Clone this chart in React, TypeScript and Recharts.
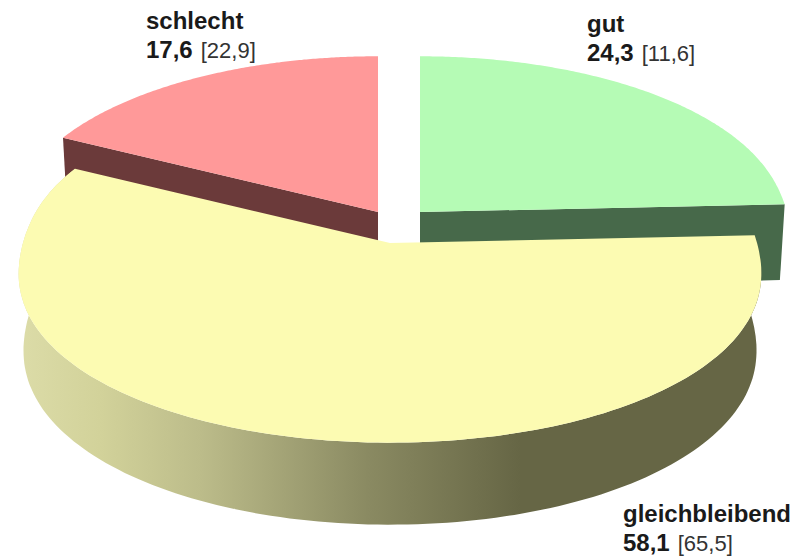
import { PieChart, Pie, Cell } from "recharts";

const names = ["schlecht", "gut", "gleichbleibend"];
const current = [17.6, 24.3, 58.1];
const previous = [22.9, 11.6, 65.5];

const TOP_COLORS: Record<string, string> = {
  schlecht: "#ff9999",
  gut: "#b5fbb5",
  gleichbleibend: "#fcfbb2",
};
const WALL_COLORS: Record<string, string> = {
  schlecht: "#6b3a3a",
  gut: "#47694a",
  gleichbleibend: "url(#yellowWall)",
};
// explode offset from the pie centre
const OFFSETS: Record<string, { dx: number; dy: number }> = {
  schlecht: { dx: -12, dy: 0 },
  gut: { dx: 30, dy: 0 },
  gleichbleibend: { dx: 0, dy: 31 },
};
const LABEL_POS: Record<string, { x: number; y: number }> = {
  schlecht: { x: 146, y: 29 },
  gut: { x: 587, y: 32 },
  gleichbleibend: { x: 623, y: 522 },
};

const CX = 390;
const CY = 212;
const RADIUS = 367;
const RY = 175;
const KY = 0.1236;
const DEPTH = 76;
const BOTTOM_SCALE = 0.987;

const tableData = names.map((name, i) => ({ name, value: current[i], previous: previous[i] }));
// first slice starts so that "gut" begins at 12 o'clock
const startAngle = 90 + (current[0] / 100) * 360;

// perspective projection of a point on the pie rim, phi clockwise from 12 o'clock
function project(phi: number, cx: number, cy: number, r: number) {
  const rad = (phi * Math.PI) / 180;
  const u = Math.sin(rad);
  const v = -Math.cos(rad);
  // the reference widens less towards the back than towards the front
  const kx = 0.13 + 0.04 * Math.tanh(v * 4);
  return {
    x: cx + (r * u) / (1 - kx * v),
    y: cy + ((r / RADIUS) * RY * v) / (1 - KY * v),
    v,
  };
}

function toPath(pts: { x: number; y: number }[]) {
  return pts.map((p, i) => `${i ? "L" : "M"}${p.x.toFixed(1)} ${p.y.toFixed(1)}`).join(" ") + " Z";
}

function Slice3D(props: any) {
  const { cx, cy, outerRadius, startAngle: a0, endAngle: a1, name, fill } = props;
  const off = OFFSETS[name];
  const x0 = cx + off.dx;
  const y0 = cy + off.dy;
  let phi0 = 90 - a0;
  let phi1 = 90 - a1;
  while (phi0 < 0) {
    phi0 += 360;
    phi1 += 360;
  }
  while (phi0 >= 359.99) {
    phi0 -= 360;
    phi1 -= 360;
  }
  const rim: { x: number; y: number; v: number }[] = [];
  for (let i = 0; i <= 160; i++) {
    rim.push(project(phi0 + ((phi1 - phi0) * i) / 160, x0, y0, outerRadius));
  }
  const apex = { x: x0, y: y0 };
  const wall = WALL_COLORS[name];
  const lower = (p: { x: number; y: number; v: number }) => ({
    x: x0 + (p.x - x0) * BOTTOM_SCALE,
    y: p.y + DEPTH + 6 * p.v,
  });

  const radialWall = (p: { x: number; y: number; v: number }) => (
    <path d={toPath([apex, p, lower(p), { x: x0, y: y0 + DEPTH }])} fill={wall} />
  );
  // one quad per rim step, so the side edges of the wall get filled too
  const outerWall = rim
    .slice(1)
    .map((p, i) => toPath([rim[i], p, lower(p), lower(rim[i])]))
    .join(" ");

  return (
    <g>
      <defs>
        <linearGradient id="yellowWall" gradientUnits="userSpaceOnUse" x1="18" y1="0" x2="762" y2="0">
          <stop offset="0" stopColor="#dcdca8" />
          <stop offset="0.11" stopColor="#d2d29a" />
          <stop offset="0.245" stopColor="#bcbc8a" />
          <stop offset="0.47" stopColor="#8a8a62" />
          <stop offset="0.675" stopColor="#666645" />
          <stop offset="1" stopColor="#666645" />
        </linearGradient>
      </defs>
      {phi1 < 180 && radialWall(rim[rim.length - 1])}
      {phi0 > 180 && radialWall(rim[0])}
      {phi0 < 180 && phi1 > 180 && <path d={outerWall} fill={wall} />}
      <path d={toPath([apex, ...rim])} fill={fill} />
    </g>
  );
}

function SliceLabel(props: any) {
  const { name, value, payload } = props;
  const pos = LABEL_POS[name];
  const fmt = (n: number) => n.toFixed(1).replace(".", ",");
  return (
    <text x={pos.x} y={pos.y} fontFamily="Liberation Sans" fill="#1a1a1a">
      <tspan fontWeight="bold" fontSize={24}>{name}</tspan>
      <tspan x={pos.x} dy={28.5} fontWeight="bold" fontSize={24}>{fmt(value)}</tspan>
      <tspan fill="#333" dx={8} fontSize={22}>[{fmt(payload.previous)}]</tspan>
    </text>
  );
}

export default function App() {
  return (
    <div style={{ position: "absolute", left: 0, top: 0, width: 796, height: 556 }}>
      <PieChart width={796} height={556} margin={{ top: 0, right: 0, bottom: 0, left: 0 }}>
        <Pie
          data={tableData}
          dataKey="value"
          nameKey="name"
          cx={CX}
          cy={CY}
          innerRadius={0}
          outerRadius={RADIUS}
          startAngle={startAngle}
          endAngle={startAngle - 360}
          stroke="none"
          shape={Slice3D}
          label={SliceLabel}
          labelLine={false}
          isAnimationActive={false}
        >
          {tableData.map((d) => (
            <Cell key={d.name} fill={TOP_COLORS[d.name]} />
          ))}
        </Pie>
      </PieChart>
    </div>
  );
}
